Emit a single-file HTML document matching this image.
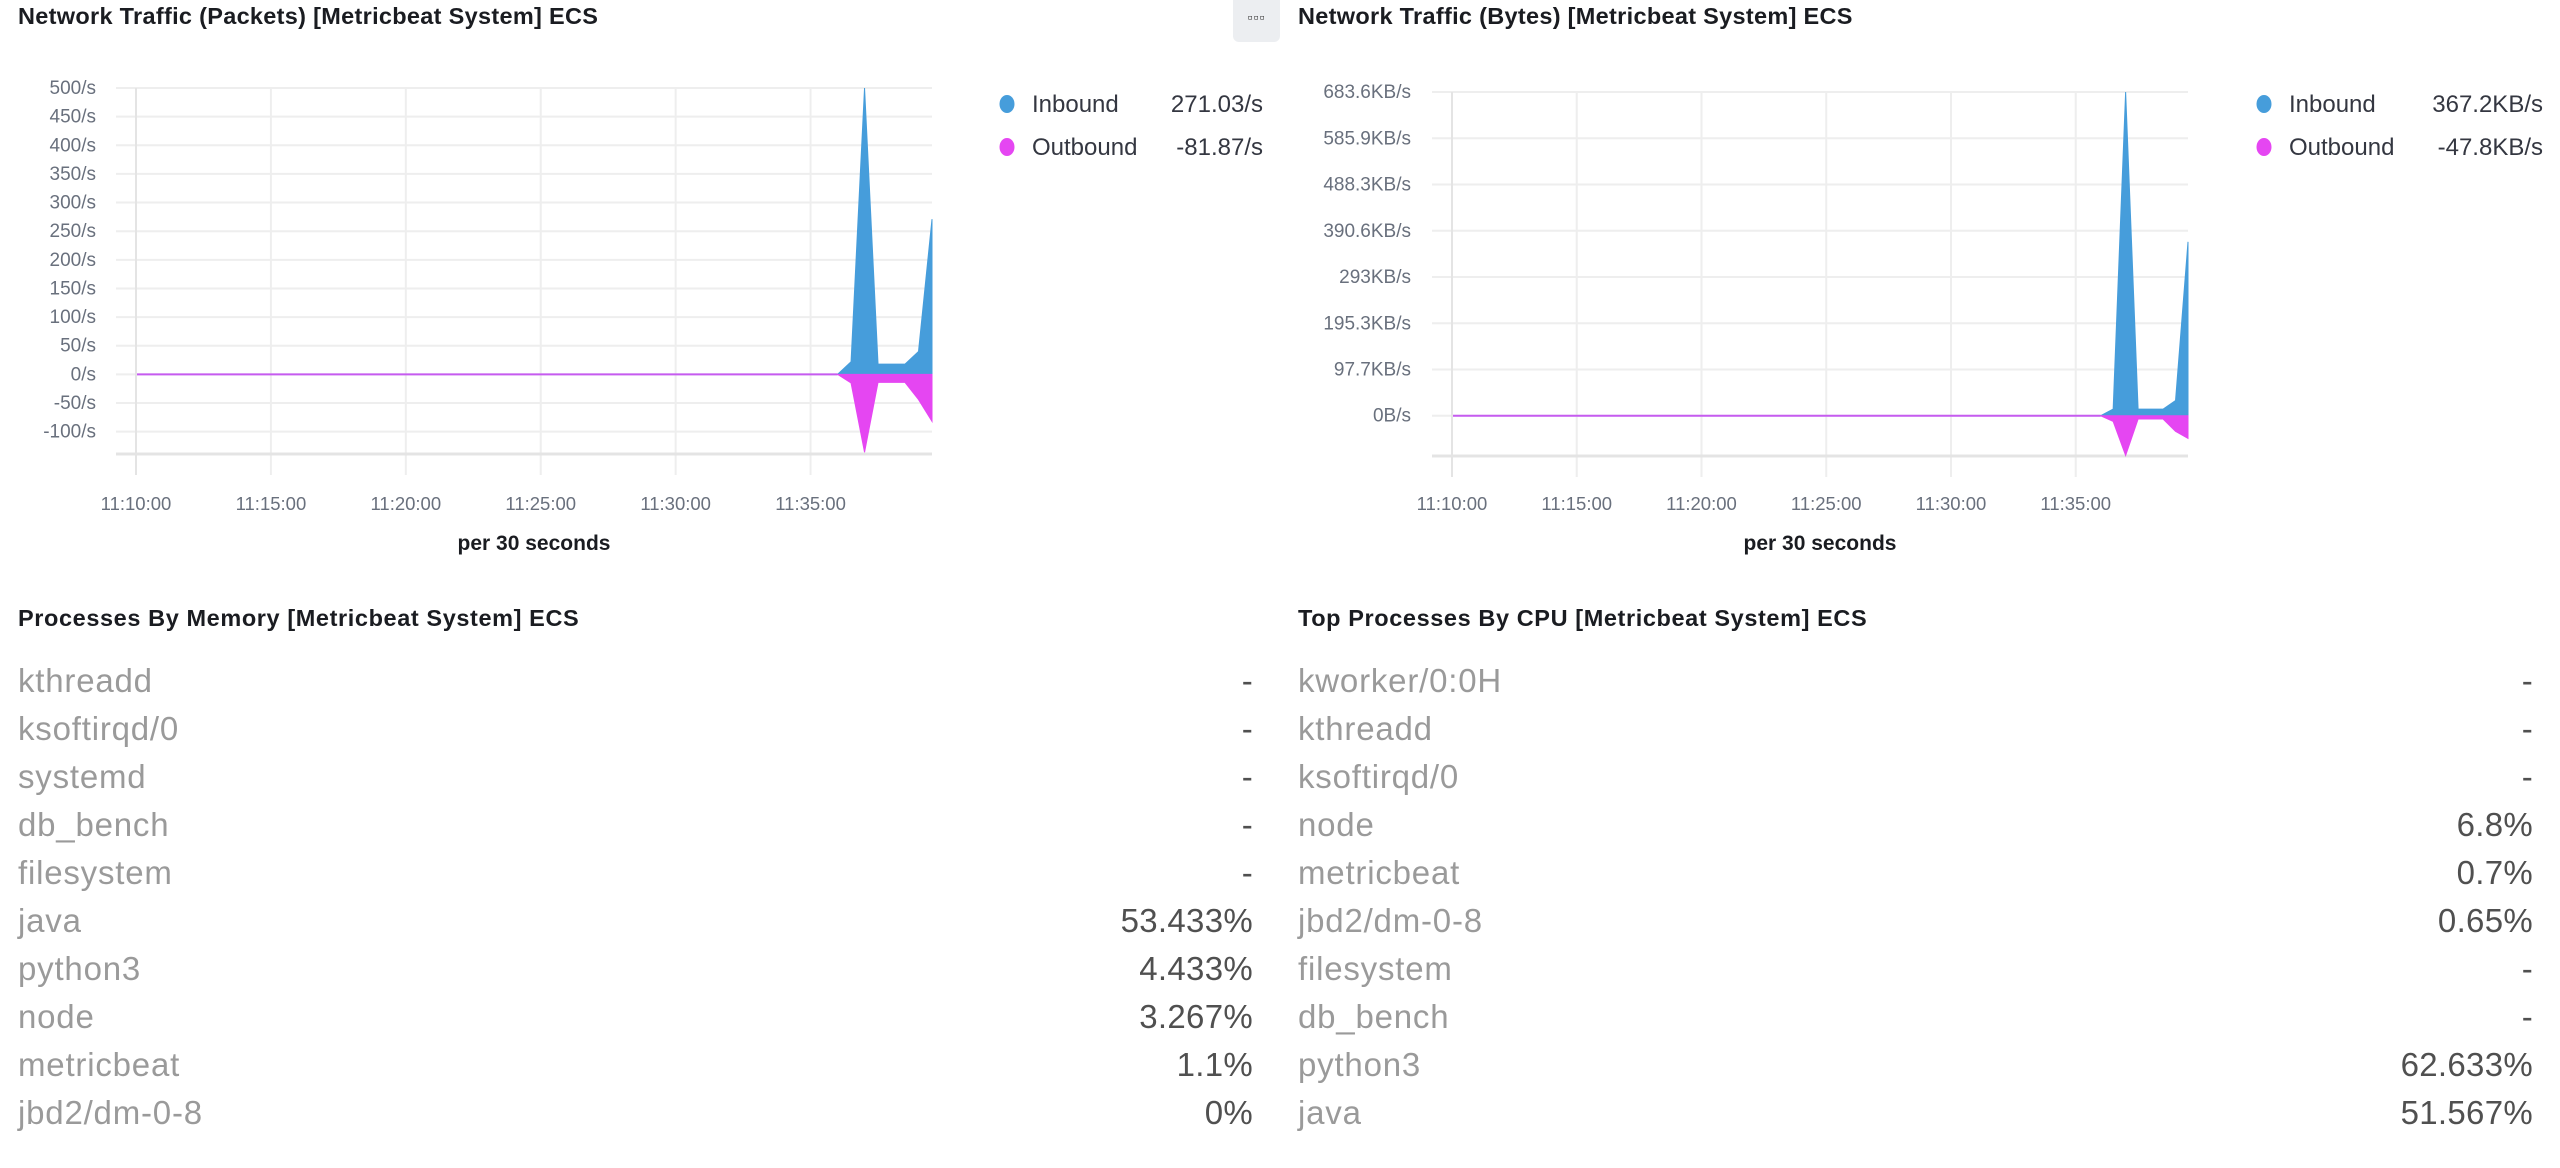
<!DOCTYPE html>
<html><head><meta charset="utf-8">
<style>
body{margin:0;width:2560px;height:1168px;background:#fff;font-family:"Liberation Sans",sans-serif;overflow:hidden;position:relative}
.title{position:absolute;font-weight:bold;font-size:23.5px;color:#1a1c21;white-space:nowrap;letter-spacing:0.3px}
.row{position:absolute;font-size:33px;height:48px;line-height:48px}
.nm{position:absolute;left:0;color:#9a9a9a;white-space:nowrap;letter-spacing:0.8px}
.vl{position:absolute;right:0;color:#505050;white-space:nowrap;letter-spacing:0.3px}
svg{position:absolute;left:0;top:0}
</style></head><body>
<div class="title" style="left:18px;top:3px">Network Traffic (Packets) [Metricbeat System] ECS</div>
<div class="title" style="left:1298px;top:3px">Network Traffic (Bytes) [Metricbeat System] ECS</div>
<div style="position:absolute;left:1233px;top:0;width:47px;height:42px;background:#eceef1;border-radius:0 0 6px 6px;font-size:14px;color:#333;text-align:center;line-height:34px;letter-spacing:1px">▫▫▫</div>
<div class="title" style="left:18px;top:605px;letter-spacing:0.6px">Processes By Memory [Metricbeat System] ECS</div>
<div class="title" style="left:1298px;top:605px;letter-spacing:0.6px">Top Processes By CPU [Metricbeat System] ECS</div>
<div id="tables"></div>
<svg id="chart" width="2560" height="600"></svg>
<script>
// Packets chart data
const times = ["11:36:00","11:36:30","11:37:00","11:37:30","11:38:00","11:38:30","11:39:00","11:39:30"];
const pktIn = [0,22,500,18,18,18,40,271];
const pktOut = [0,-15,-136,-14,-14,-14,-44,-82];
const pktTicks = [500,450,400,350,300,250,200,150,100,50,0,-50,-100];
const pktTickLabels = ["500/s","450/s","400/s","350/s","300/s","250/s","200/s","150/s","100/s","50/s","0/s","-50/s","-100/s"];
// Bytes chart data (KB/s)
const bytIn = [0,14,683.6,14,14,14,32,367.2];
const bytOut = [0,-12,-84,-7,-7,-7,-33,-47.8];
const bytTicks = [683.6,585.9,488.3,390.6,293,195.3,97.7,0];
const bytTickLabels = ["683.6KB/s","585.9KB/s","488.3KB/s","390.6KB/s","293KB/s","195.3KB/s","97.7KB/s","0B/s"];
const xTickLabels = ["11:10:00","11:15:00","11:20:00","11:25:00","11:30:00","11:35:00"];
const pktLegend = ["271.03/s","-81.87/s"];
const bytLegend = ["367.2KB/s","-47.8KB/s"];
const memNames = ["kthreadd","ksoftirqd/0","systemd","db_bench","filesystem","java","python3","node","metricbeat","jbd2/dm-0-8"];
const memVals = ["-","-","-","-","-","53.433%","4.433%","3.267%","1.1%","0%"];
const cpuNames = ["kworker/0:0H","kthreadd","ksoftirqd/0","node","metricbeat","jbd2/dm-0-8","filesystem","db_bench","python3","java"];
const cpuVals = ["-","-","-","6.8%","0.7%","0.65%","-","-","62.633%","51.567%"];

const NS="http://www.w3.org/2000/svg";
const svg=document.getElementById('chart');
function mk(tag,attrs,parent){const e=document.createElementNS(NS,tag);for(const k in attrs)e.setAttribute(k,attrs[k]);(parent||svg).appendChild(e);return e;}
function mins(t){const p=t.split(':').map(Number);return (p[0]-11)*60+p[1]+p[2]/60;}

function chart(cfg){
  const g=mk('g',{});
  
  
  const x=m=>cfg.x0+(m-10)/(cfg.xEnd-10)*(cfg.x1-cfg.x0);
  const y=v=>cfg.yTop+(cfg.yMax-v)/(cfg.yMax-cfg.yMin)*(cfg.yBot-cfg.yTop);
  cfg.ticks.forEach((t,i)=>{
    const l=mk('line',{x1:cfg.gx,x2:cfg.x1,y1:y(t),y2:y(t),stroke:'#eeeeee','stroke-width':2},g);
    
    
    const tx=mk('text',{x:cfg.labR,y:y(t)+6,'text-anchor':'end','font-size':19,fill:'#69707d'},g);
    tx.textContent=cfg.tickLabels[i];
    
    
  });
  xTickLabels.forEach((lab,i)=>{
    const xx=x(mins(lab));
    const l=mk('line',{x1:xx,x2:xx,y1:cfg.yTop,y2:cfg.yBot+21,stroke:'#eeeeee','stroke-width':2},g);
    
    
    const tx=mk('text',{x:xx,y:510,'text-anchor':'middle','font-size':18.5,fill:'#69707d'},g);
    tx.textContent=lab;
    
    
  });
  const ax=mk('line',{x1:cfg.gx,x2:cfg.x1,y1:cfg.yBot,y2:cfg.yBot,stroke:'#e4e4e4','stroke-width':3},g);
  
  
  const t=mk('text',{x:(cfg.x0+cfg.x1)/2,y:550,'text-anchor':'middle','font-size':21,'font-weight':'bold',fill:'#1a1c21'},g);
  t.textContent='per 30 seconds';
  
  
  const z=y(0);
  const series=[[cfg.inb,'#469ddb','inbound-area'],[cfg.outb,'#e546f2','outbound-area']];
  series.forEach(([vals,col,nm])=>{
    let d=`M${x(10)},${z} L${x(mins(times[0]))},${z} `;
    times.forEach((tm,i)=>{d+=`L${x(mins(tm))},${y(vals[i])} `;});
    d+=`L${x(mins(times[times.length-1]))},${z} Z`;
    const p=mk('path',{d:d,fill:col,stroke:col,'stroke-width':1},g);
    
    
  });
  const zl=mk('line',{x1:x(10),x2:x(mins(times[0])),y1:z,y2:z,stroke:'#c65bf0','stroke-width':2},g);
  
  
  const al=mk('line',{x1:x(10),x2:x(10),y1:cfg.yTop,y2:cfg.yBot+21,stroke:'#e4e4e4','stroke-width':2},g);
  
  
  [['Inbound','#469ddb',104],['Outbound','#e546f2',147]].forEach(([lab,col,ly],i)=>{
    const c=mk('ellipse',{cx:cfg.legX,cy:ly,rx:7.5,ry:9,fill:col},g);
    
    
    const a=mk('text',{x:cfg.legX+25,y:ly+8,'font-size':24,fill:'#343741'},g);
    a.textContent=lab;
    
    
    const b=mk('text',{x:cfg.legR,y:ly+8,'text-anchor':'end','font-size':24,fill:'#343741'},g);
    b.textContent=cfg.legVals[i];
    
    
  });
}
chart({name:'packets-chart',x0:136,x1:932,gx:116,xEnd:mins("11:39:30"),yTop:88,yBot:454,yMax:500,yMin:-139,
  ticks:pktTicks,tickLabels:pktTickLabels,labR:96,inb:pktIn,outb:pktOut,legX:1007,legR:1263,legVals:pktLegend});
chart({name:'bytes-chart',x0:1452,x1:2188,gx:1432,xEnd:mins("11:39:30"),yTop:92,yBot:456,yMax:683.6,yMin:-85,
  ticks:bytTicks,tickLabels:bytTickLabels,labR:1411,inb:bytIn,outb:bytOut,legX:2264,legR:2543,legVals:bytLegend});

const tables=document.getElementById('tables');
function table(names,vals,left,right,nm){
  names.forEach((n,i)=>{
    const r=document.createElement('div');
    r.className='row';
    r.style.left=left+'px';r.style.width=(right-left)+'px';r.style.top=(657+48*i)+'px';
    
    
    const a=document.createElement('span');a.className='nm';a.textContent=n;
    
    
    const b=document.createElement('span');b.className='vl';b.textContent=vals[i];
    
    
    r.appendChild(a);r.appendChild(b);tables.appendChild(r);
  });
}
table(memNames,memVals,18,1253,'memory');
table(cpuNames,cpuVals,1298,2533,'cpu');
</script>
</body></html>
